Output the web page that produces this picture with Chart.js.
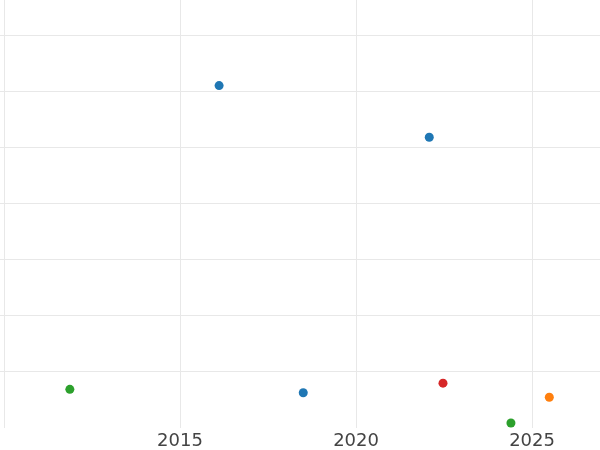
<!DOCTYPE html>
<html>
<head>
<meta charset="utf-8">
<script src="https://cdn.jsdelivr.net/npm/chart.js@4"></script>
<style>
  html, body { margin: 0; padding: 0; background: #fff; }
  #wrap { width: 600px; height: 450px; }
</style>
</head>
<body>
<div id="wrap"><canvas id="chart"></canvas></div>
<script>
// points, grouped by colour
var blueX = [2016.11, 2022.08, 2018.50];
var blueY = [6.10, 5.18, 0.63];
var greenX = [2011.87, 2024.40];
var greenY = [0.69, 0.09];
var redX = [2022.47];
var redY = [0.80];
var orangeX = [2025.49];
var orangeY = [0.55];

var xTicks = [2010, 2015, 2020, 2025];
var xLabels = ["", "2015", "2020", "2025"];

function pts(xs, ys) {
    return xs.map(function(x, i) { return { x: x, y: ys[i] }; });
}

function dataset(xs, ys, color) {
    return {
        data: pts(xs, ys),
        backgroundColor: color,
        borderWidth: 0,
        pointRadius: 4.5,
        pointHoverRadius: 4.5
    };
}

new Chart(document.getElementById("chart"), {
    type: 'scatter',
    data: {
        datasets: [
            dataset(blueX, blueY, "#1f77b4"),
            dataset(greenX, greenY, "#2ca02c"),
            dataset(redX, redY, "#d62728"),
            dataset(orangeX, orangeY, "#ff7f0e")
        ]
    },
    options: {
        responsive: true,
        maintainAspectRatio: false,
        animation: false,
        layout: { padding: { left: 0, right: 0, top: 0, bottom: -5 }, autoPadding: false },
        plugins: {
            legend: { display: false },
            tooltip: { enabled: false }
        },
        scales: {
            x: {
                type: 'linear',
                min: 2009.886,
                max: 2026.93,
                border: { display: false },
                grid: { color: '#e8e8e8', drawTicks: false },
                afterBuildTicks: function(scale) {
                    scale.ticks = xTicks.map(function(v) { return { value: v }; });
                },
                ticks: {
                    padding: 4,
                    color: '#444',
                    font: { family: 'DejaVu Sans', size: 18, lineHeight: 1.05 },
                    callback: function(v) {
                        var i = xTicks.indexOf(v);
                        return i >= 0 ? xLabels[i] : '';
                    }
                }
            },
            y: {
                min: 0,
                max: 7.625,
                border: { display: false },
                grid: { color: '#e8e8e8', drawTicks: false },
                afterBuildTicks: function(scale) {
                    scale.ticks = scale.ticks.filter(function(t) {
                        return Number.isInteger(t.value) && t.value > 0;
                    });
                },
                ticks: { display: false, stepSize: 1 }
            }
        }
    }
});
</script>
</body>
</html>
